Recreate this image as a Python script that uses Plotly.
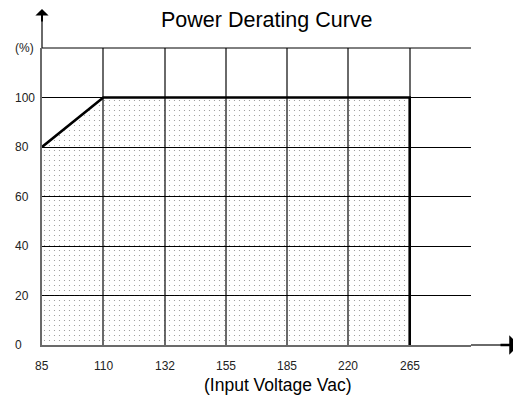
import plotly.graph_objects as go

# ---- data ----
voltage_labels = ["85", "110", "132", "155", "185", "220", "265"]
load_percent = [80, 100, 100, 100, 100, 100, 100]
cutoff_load = 0  # load drops to 0 beyond 265 Vac
y_tick_values = [0, 20, 40, 60, 80, 100, 120]
y_tick_labels = ["0", "20", "40", "60", "80", "100", "(%)"]
title_text = "Power Derating Curve"
x_title_text = "(Input Voltage Vac)"

W, H = 521, 401
OFF = 8  # page body margin
PX0, PX1, PY0, PY1 = 42, 471, 48, 345
ML = PX0 - OFF
MT = PY0 - OFF
MR = W - (PX1 - OFF)
MB = H - (PY1 - OFF)
PW = PX1 - PX0
PH = PY1 - PY0


def px_to_paper_x(px):
    return (px - PX0) / PW


def px_to_paper_y(py):
    return (PY1 - py) / PH


idx = list(range(len(voltage_labels)))
n_cols = len(voltage_labels)

curve_x = idx + [idx[-1]]
curve_y = load_percent + [cutoff_load]

FONT = "Liberation Sans, Arial, sans-serif"
GRAY = "#6a6a6a"

fig = go.Figure()
fig.add_trace(go.Scatter(
    x=curve_x, y=curve_y, mode="lines",
    line=dict(color="black", width=2.6),
    fill="tozeroy", fillcolor="rgba(0,0,0,0)",
    fillpattern=dict(shape=".", fgcolor="#222222", bgcolor="rgba(0,0,0,0)",
                     size=5, solidity=0.045),
    hoverinfo="skip", showlegend=False, cliponaxis=False,
))

annotations = []
for v, t in zip(y_tick_values, y_tick_labels):
    annotations.append(dict(x=0, xref="paper", y=v, yref="y", text=t,
                            showarrow=False, xanchor="left", yanchor="middle",
                            xshift=-29, font=dict(family=FONT, size=12, color="#222")))
for i, t in zip(idx, voltage_labels):
    annotations.append(dict(x=i, xref="x", y=0, yref="paper", text=t,
                            showarrow=False, xanchor="center", yanchor="middle",
                            yshift=-21, font=dict(family=FONT, size=12, color="#222")))
annotations.append(dict(x=px_to_paper_x(267), xref="paper", y=px_to_paper_y(20), yref="paper",
                        text=title_text, showarrow=False, xanchor="center", yanchor="middle",
                        font=dict(family=FONT, size=21.5, color="black")))
annotations.append(dict(x=px_to_paper_x(278), xref="paper", y=px_to_paper_y(385), yref="paper",
                        text=x_title_text, showarrow=False, xanchor="center", yanchor="middle",
                        font=dict(family=FONT, size=17.5, color="black")))
annotations.append(dict(x=0, xref="paper", y=px_to_paper_y(3), yref="paper", text="",
                        showarrow=True, ax=0, ay=20, arrowhead=1, arrowsize=1.1,
                        arrowwidth=2, arrowcolor="black", standoff=0))
annotations.append(dict(x=px_to_paper_x(519), xref="paper", y=0, yref="paper", text="",
                        showarrow=True, ax=-20, ay=0, arrowhead=1, arrowsize=1.3,
                        arrowwidth=2.5, arrowcolor="black", standoff=0))

shapes = [
    dict(type="line", xref="paper", yref="paper", x0=0, x1=0, y0=1, y1=px_to_paper_y(20),
         line=dict(color=GRAY, width=2)),
    dict(type="line", xref="paper", yref="paper", x0=1, x1=px_to_paper_x(503), y0=0, y1=0,
         line=dict(color=GRAY, width=2)),
    dict(type="line", xref="paper", yref="paper", x0=0, x1=1, y0=1, y1=1,
         line=dict(color="black", width=1)),
]

fig.update_layout(
    width=W, height=H,
    margin=dict(l=ML, r=MR, t=MT, b=MB, pad=0),
    paper_bgcolor="white", plot_bgcolor="white",
    xaxis=dict(range=[0, n_cols], tickvals=list(range(n_cols + 1)), showticklabels=False,
               showgrid=True, gridcolor=GRAY, gridwidth=2, zeroline=False,
               showline=True, linecolor=GRAY, linewidth=2, ticks="", fixedrange=True),
    yaxis=dict(range=[0, y_tick_values[-1]], tickvals=y_tick_values, showticklabels=False,
               showgrid=True, gridcolor="black", gridwidth=1, zeroline=False,
               showline=True, linecolor=GRAY, linewidth=2, ticks="", fixedrange=True),
    annotations=annotations, shapes=shapes, showlegend=False,
)

fig.write_html("out.html")
